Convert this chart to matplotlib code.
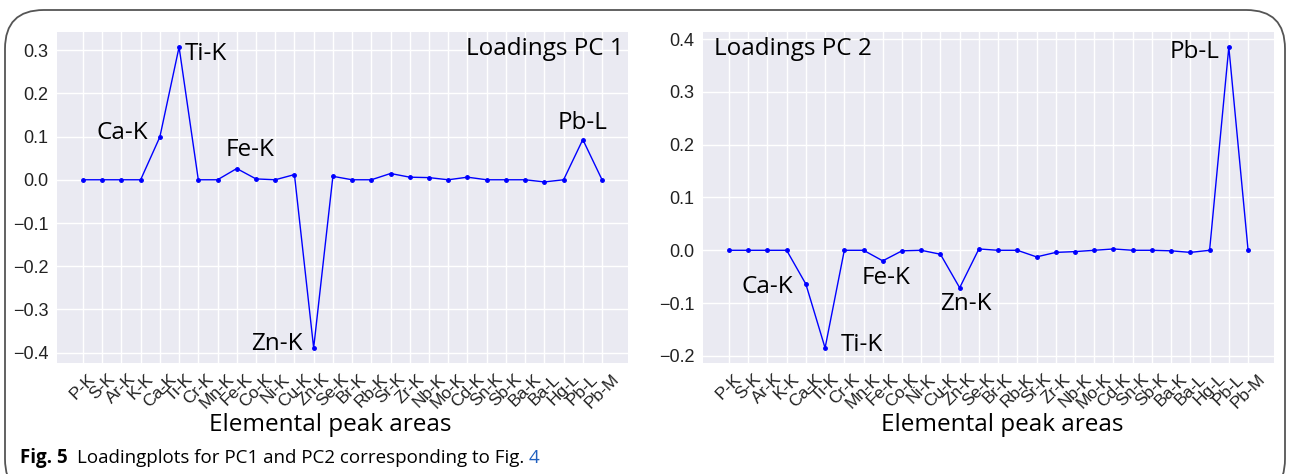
import matplotlib
matplotlib.use("Agg")
import matplotlib.pyplot as plt
from matplotlib.patches import FancyBboxPatch

# peak areas on the x axis
elements = ["P-K", "S-K", "Ar-K", "K-K", "Ca-K", "Ti-K", "Cr-K", "Mn-K", "Fe-K",
            "Co-K", "Ni-K", "Cu-K", "Zn-K", "Se-K", "Br-K", "Rb-K", "Sr-K", "Zr-K",
            "Nb-K", "Mo-K", "Cd-K", "Sn-K", "Sb-K", "Ba-K", "Ba-L", "Hg-L", "Pb-L", "Pb-M"]

pc1 = [0.0, 0.0, 0.0, 0.0, 0.099, 0.307, 0.0, 0.0, 0.026,
       0.002, 0.0, 0.012, -0.389, 0.008, 0.0, 0.0, 0.0145, 0.006,
       0.005, 0.0, 0.006, 0.0, 0.0, 0.0, -0.005, 0.0, 0.093, 0.0]

pc2 = [0.0, 0.0, 0.0, 0.0, -0.064, -0.185, 0.0, 0.0, -0.020,
       -0.001, 0.0, -0.0075, -0.071, 0.0025, 0.0, 0.0, -0.0125, -0.004,
       -0.0025, 0.0, 0.0025, 0.0, 0.0, -0.001, -0.004, 0.0, 0.385, 0.001]

# (text, x, y, ha)
labels_pc1 = [("Ti-K", 5.3, 0.292, "left"), ("Ca-K", 3.4, 0.109, "right"),
              ("Fe-K", 8.7, 0.068, "center"), ("Zn-K", 11.45, -0.380, "right"),
              ("Pb-L", 26.0, 0.131, "center")]
labels_pc2 = [("Pb-L", 25.5, 0.375, "right"), ("Ca-K", 3.36, -0.070, "right"),
              ("Ti-K", 5.8, -0.180, "left"), ("Fe-K", 8.15, -0.0525, "center"),
              ("Zn-K", 12.3, -0.1026, "center")]

ANN_FONT = "Open Sans"
TICK_FONT = "Liberation Sans"
ANN_SIZE = 17.5

fig = plt.figure(figsize=(12.9, 4.74), dpi=100)

# rounded frame around the figure panel
frame = FancyBboxPatch((5 / 1290, -0.05), 1280 / 1290, 0.05 + 464 / 474,
                       boxstyle="round,pad=0,rounding_size=0.03",
                       transform=fig.transFigure, facecolor="none",
                       edgecolor="#555555", linewidth=1.3, mutation_aspect=1290 / 474)
fig.patches.append(frame)

ax1 = fig.add_axes([57 / 1290, 1 - 363 / 474, 571 / 1290, 331 / 474])
ax2 = fig.add_axes([703 / 1290, 1 - 363 / 474, 571 / 1290, 331 / 474])


def draw(ax, values, labels, title, title_x, title_ha, xlabel_x):
    x = range(len(elements))
    ax.set_facecolor("#EAEAF2")
    ax.plot(x, values, color="b", linewidth=1, marker=".", markersize=5)
    ax.grid(True, color="white", linewidth=1)
    ax.set_axisbelow(True)
    for s in ax.spines.values():
        s.set_visible(False)
    ax.tick_params(length=0, pad=6, labelsize=13, colors="#222222")
    ax.set_xticks(list(x))
    ax.set_xticklabels(elements, rotation=45, fontsize=12.5, family=TICK_FONT)
    ax.set_xlabel("Elemental peak areas", fontsize=ANN_SIZE, family=ANN_FONT)
    ax.xaxis.set_label_coords(xlabel_x, -0.150)
    for txt, tx, ty, ha in labels:
        ax.text(tx, ty, txt, ha=ha, va="center", fontsize=ANN_SIZE, family=ANN_FONT)
    ax.text(title_x, 0.948, title, ha=title_ha, va="center", fontsize=ANN_SIZE,
            family=ANN_FONT, transform=ax.transAxes)


draw(ax1, pc1, labels_pc1, "Loadings PC 1", 0.993, "right", 0.478)
draw(ax2, pc2, labels_pc2, "Loadings PC 2", 0.019, "left", 0.524)
ax1.set_yticks([-0.4, -0.3, -0.2, -0.1, 0.0, 0.1, 0.2, 0.3])
ax2.set_yticks([-0.2, -0.1, 0.0, 0.1, 0.2, 0.3, 0.4])
for ax in (ax1, ax2):
    ax.set_yticklabels([f"{v:.1f}".replace("-", "\u2212") for v in ax.get_yticks()],
                       family=TICK_FONT)

# caption: bold figure number, plain text, blue link
renderer = fig.canvas.get_renderer()
cap_y = 1 - 458 / 474
cap_size = 13.5
t1 = fig.text(20 / 1290, cap_y, "Fig. 5", fontsize=cap_size, weight="bold",
              family=ANN_FONT, va="center")
bb = t1.get_window_extent(renderer)
t2 = fig.text((bb.x1 + 9) / 1290, cap_y, "Loadingplots for PC1 and PC2 corresponding to Fig. ",
              fontsize=cap_size, family=ANN_FONT, va="center")
bb = t2.get_window_extent(renderer)
fig.text(bb.x1 / 1290, cap_y, "4", fontsize=cap_size, family=ANN_FONT, va="center",
         color="#1F5FBF")

fig.savefig("out.png", dpi=100)
